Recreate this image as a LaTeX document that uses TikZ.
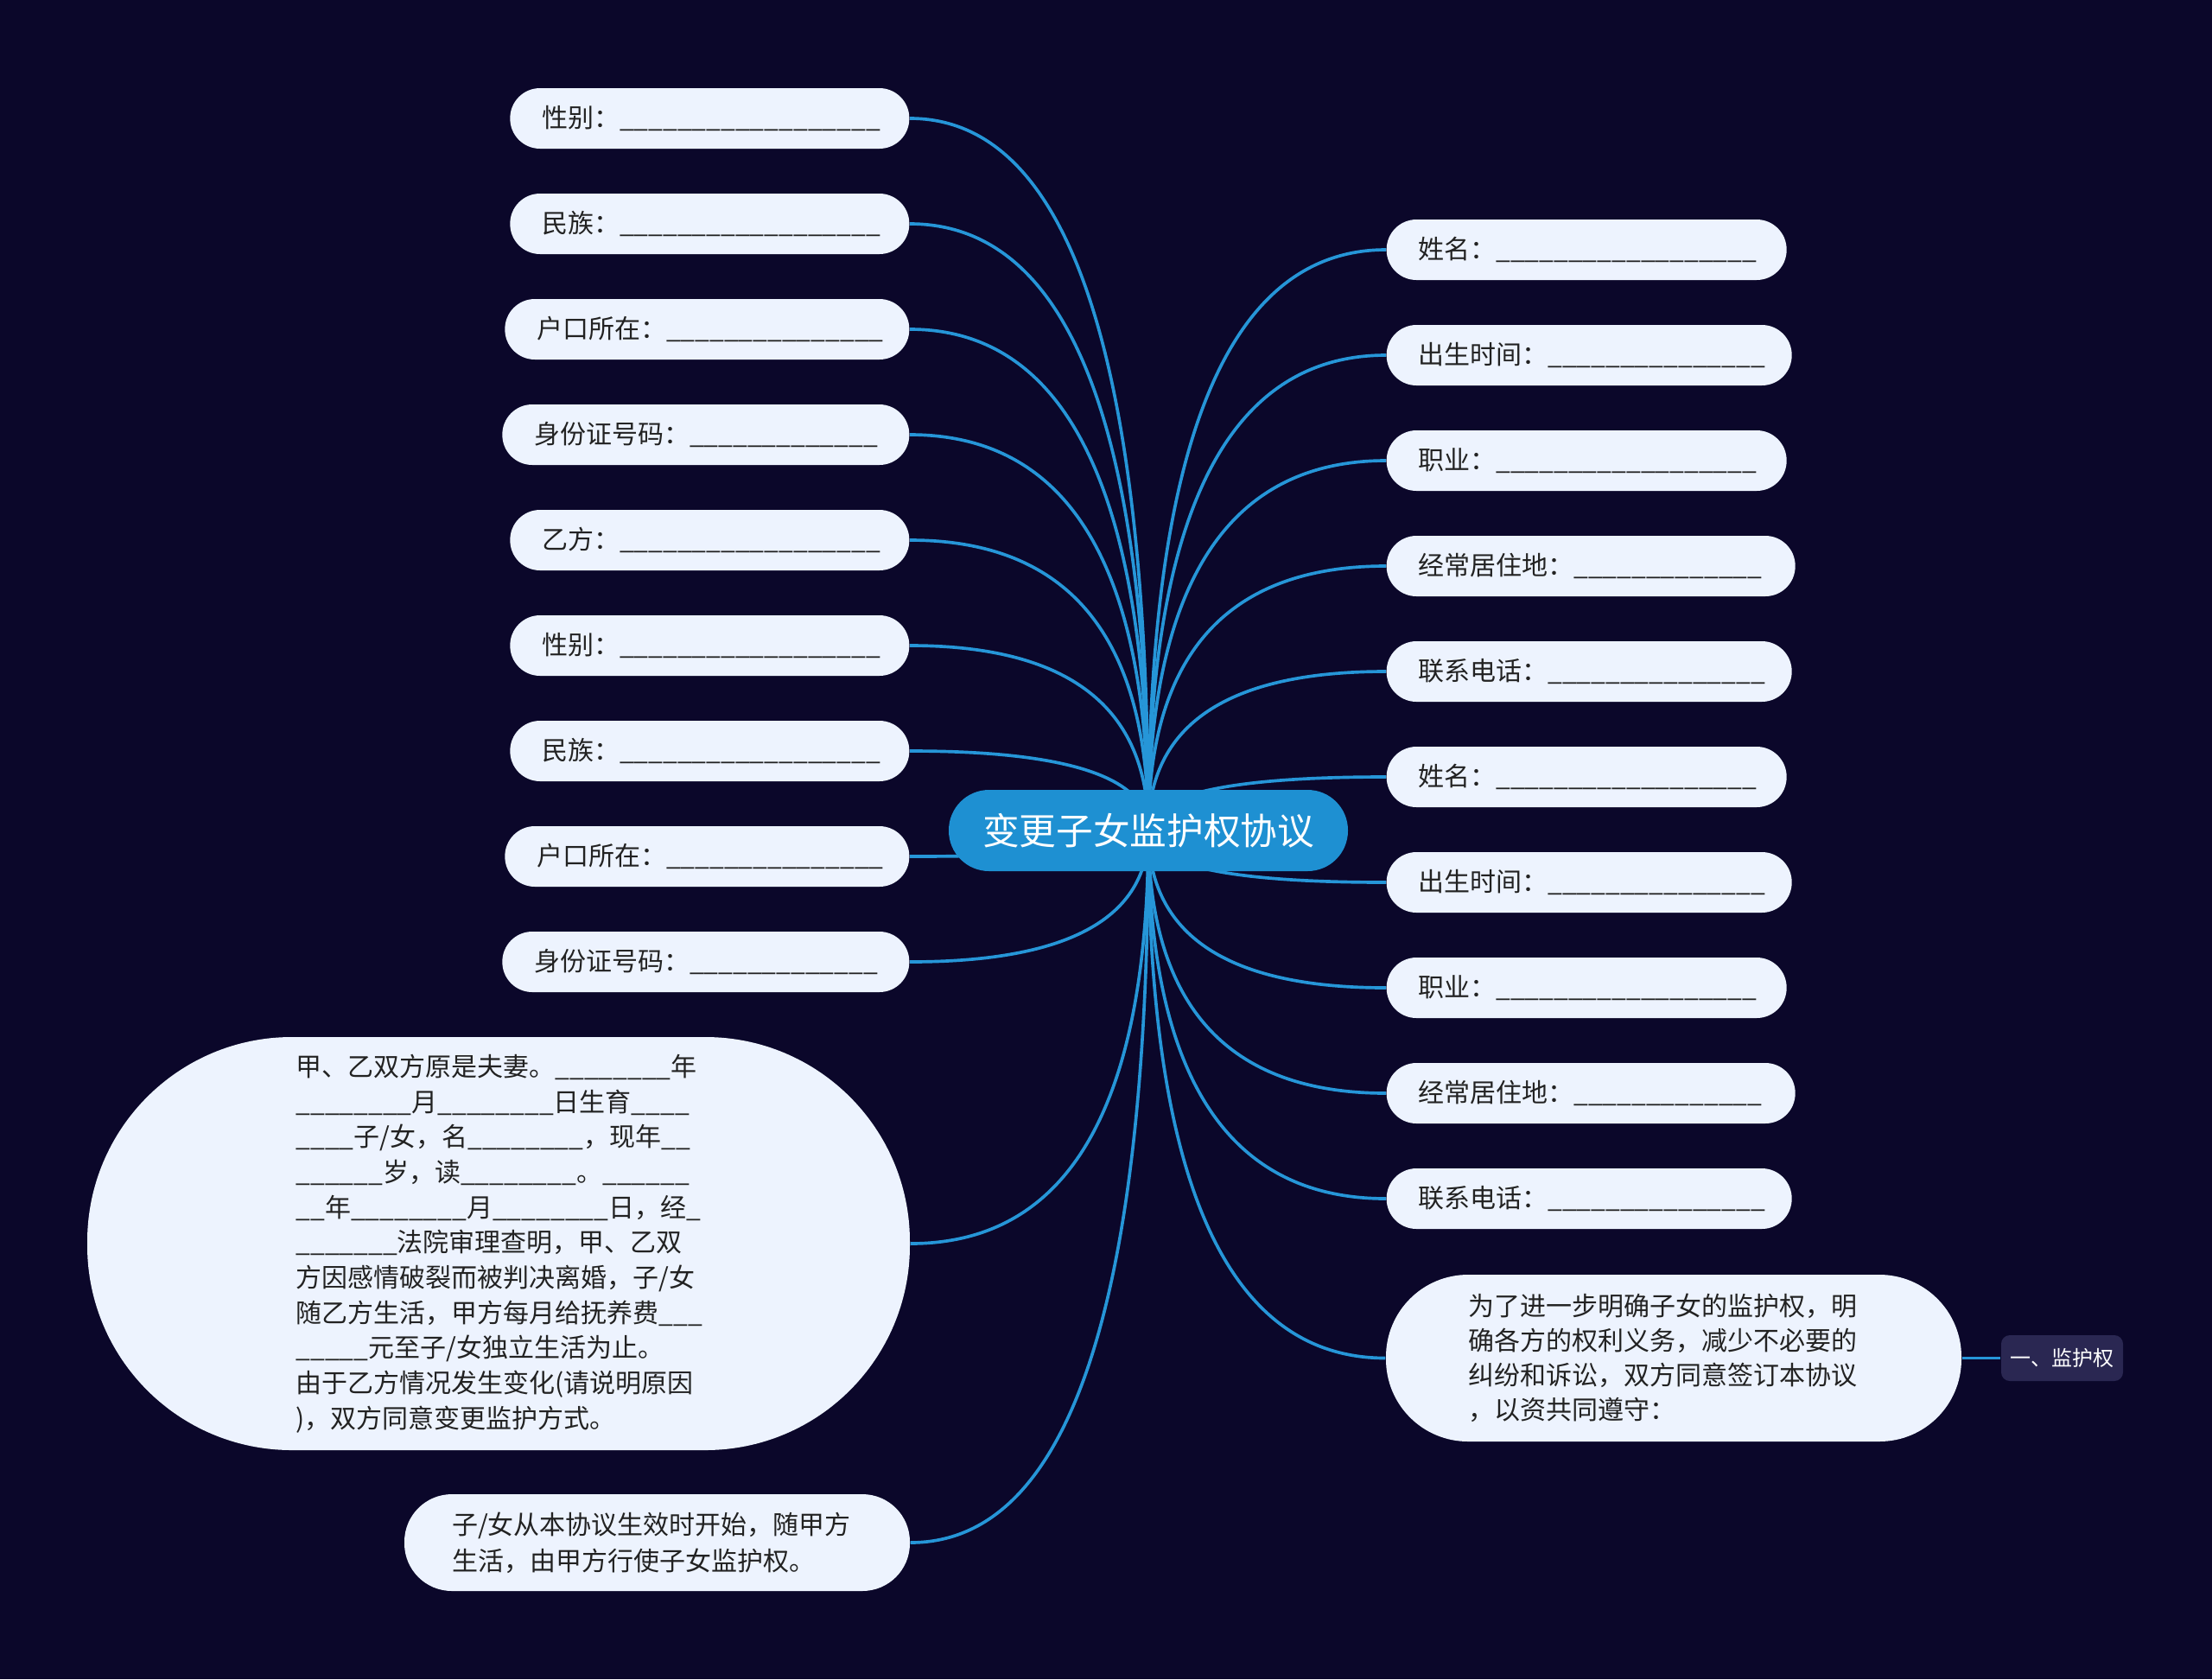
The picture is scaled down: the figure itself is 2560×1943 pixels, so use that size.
\documentclass[tikz,border=0pt]{standalone}
\usepackage{fontspec}
\setmainfont{Noto Sans CJK SC}
\usetikzlibrary{calc,backgrounds}
\definecolor{bgnavy}{RGB}{11,7,42}
\definecolor{linkblue}{RGB}{38,150,216}
\definecolor{rootblue}{RGB}{30,144,210}
\definecolor{leaffill}{RGB}{237,243,254}
\definecolor{leaftext}{RGB}{34,34,34}
\definecolor{tagfill}{RGB}{42,39,82}
\tikzset{
root/.style={fill=rootblue, text=white, rounded corners=14pt, minimum width=138.6pt, minimum height=28.2pt, inner sep=0pt, font=\fontsize{12.8}{16}\selectfont},
leaf/.style={fill=leaffill, text=leaftext, rounded corners=10.4pt, minimum height=21pt, inner xsep=11pt, inner ysep=0pt, align=left, text width=#1, font=\fontsize{9}{12}\selectfont},
leaf/.default={116.6pt},
note/.style={fill=leaffill, text=leaftext, inner sep=0pt, align=left},
tag/.style={fill=tagfill, text=white, rounded corners=3pt, minimum width=42.3pt, minimum height=15.9pt, inner sep=0pt, font=\fontsize{7.2}{9}\selectfont},
link/.style={draw=linkblue, line width=1.1pt}
}
\begin{document}
\catcode`\_=12
\begin{tikzpicture}[x=0.3pt,y=-0.3pt]
\useasboundingbox (0,0) rectangle (2560,1943);
\begin{pgfonlayer}{background}
\fill[bgnavy] (0,0) rectangle (2560,1943);
\end{pgfonlayer}

% root
\node[root] (root) at (1329,961) {变更子女监护权协议};

% left side
\foreach \i/\y/\tw/\t in {
  1/137/116.6pt/性别：__________________,
  2/259/116.6pt/民族：__________________,
  3/381/118.4pt/户口所在：_______________,
  4/503/119.3pt/身份证号码：_____________,
  5/625/116.6pt/乙方：__________________,
  6/747/116.6pt/性别：__________________,
  7/869/116.6pt/民族：__________________,
  8/991/118.4pt/户口所在：_______________,
  9/1113/119.3pt/身份证号码：_____________}
  \node[leaf=\tw, anchor=east] (l\i) at (1053,\y) {\t};

\node[note, minimum width=285.6pt, minimum height=143.4pt, rounded corners=71pt, text width=140.7pt, font=\fontsize{9}{12.2}\selectfont] (lbig) at (577,1439) {甲、乙双方原是夫妻。________年\\
________月________日生育____\\
____子/女，名________，现年__\\
______岁，读________。______\\
__年________月________日，经_\\
_______法院审理查明，甲、乙双\\
方因感情破裂而被判决离婚，子/女\\
随乙方生活，甲方每月给抚养费___\\
_____元至子/女独立生活为止。\\
由于乙方情况发生变化(请说明原因\\
)，双方同意变更监护方式。};

\node[note, minimum width=175.5pt, minimum height=33.6pt, rounded corners=16.5pt, text width=142.5pt, font=\fontsize{9}{12.6}\selectfont] (lend) at (760.5,1785) {子/女从本协议生效时开始，随甲方\\
生活，由甲方行使子女监护权。};

% right side
\foreach \i/\y/\tw/\t in {
  1/289/116.9pt/姓名：__________________,
  2/411/118.7pt/出生时间：_______________,
  3/533/116.9pt/职业：__________________,
  4/655/119.9pt/经常居住地：_____________,
  5/777/118.7pt/联系电话：_______________,
  6/899/116.9pt/姓名：__________________,
  7/1021/118.7pt/出生时间：_______________,
  8/1143/116.9pt/职业：__________________,
  9/1265/119.9pt/经常居住地：_____________,
  10/1387/118.7pt/联系电话：_______________}
  \node[leaf=\tw, anchor=west] (r\i) at (1604,\y) {\t};

\node[note, minimum width=199.8pt, minimum height=57.9pt, rounded corners=28.5pt, text width=142.8pt, font=\fontsize{9}{12}\selectfont] (rbig) at (1937,1571.5) {为了进一步明确子女的监护权，明\\
确各方的权利义务，减少不必要的\\
纠纷和诉讼，双方同意签订本协议\\
，以资共同遵守：};

\node[tag] (duty) at (2386.5,1571.5) {一、监护权};

% links
\begin{pgfonlayer}{background}
\foreach \n in {l1,l2,l3,l4,l5,l6,l7,l8,l9,lbig,lend}{
  \coordinate (k) at (root.center |- \n.east);
  \draw[link] (root.center) .. controls ($(root.center)!2/3!(k)$) and ($(\n.east)!2/3!(k)$) .. (\n.east);
}
\foreach \n in {r1,r2,r3,r4,r5,r6,r7,r8,r9,r10,rbig}{
  \coordinate (k) at (root.center |- \n.west);
  \draw[link] (root.center) .. controls ($(root.center)!2/3!(k)$) and ($(\n.west)!2/3!(k)$) .. (\n.west);
}
\draw[link] (rbig) -- (duty);
\end{pgfonlayer}
\end{tikzpicture}
\end{document}
